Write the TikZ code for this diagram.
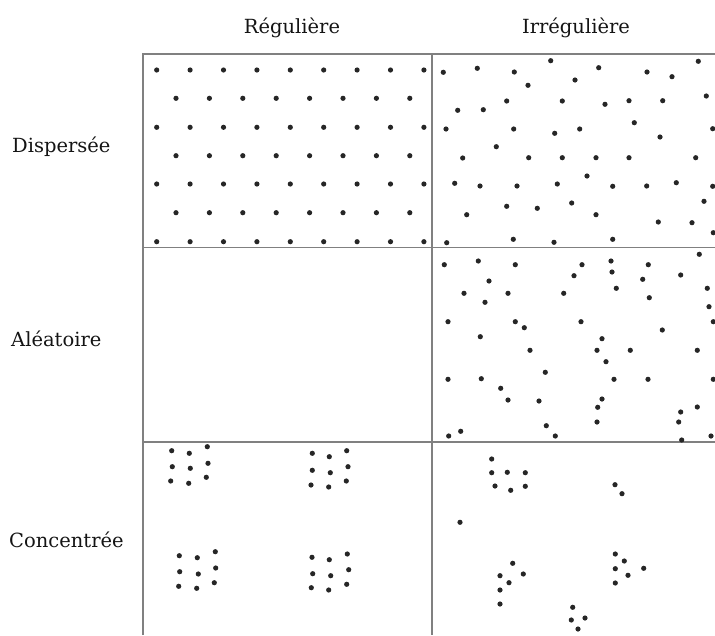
\documentclass[tikz,border=0pt]{standalone}
\usepackage{fontspec}
\setmainfont{DejaVu Serif}
\begin{document}
\begin{tikzpicture}[x=1pt,y=-1pt,
  gridline/.style={draw=black!50,line width=1.6pt},
  dot/.style={fill=black!85},
  lbl/.style={font=\fontsize{19.5}{21}\selectfont,text=black!92,inner sep=0pt}]
\useasboundingbox (0,0) rectangle (715,635);
% grid
\draw[gridline] (143,635) -- (143,54) -- (716,54);
\draw[gridline] (432,54) -- (432,635);
\draw[gridline] (143,247.5) -- (716,247.5);
\draw[gridline] (143,442) -- (716,442);
% labels
\node[lbl,anchor=base] (hreg) at (292,33) {Régulière};
\node[lbl,anchor=base] (hirr) at (576,33) {Irrégulière};
\node[lbl,anchor=base west] (rdis) at (12,152) {Dispersée};
\node[lbl,anchor=base west] (rale) at (11,346.5) {Aléatoire};
\node[lbl,anchor=base west] (rcon) at (9,547) {Concentrée};
% regular dispersed
\foreach \y in {70,127.3,184,241.7}{
  \foreach \i in {0,...,8}{\fill[dot] (156.7+33.4*\i,\y) circle (2.6);}}
\foreach \y in {98.3,155.7,212.7}{
  \foreach \i in {0,...,7}{\fill[dot] (176+33.4*\i,\y) circle (2.6);}}
% irregular dispersed
\foreach \p in {(443.3,72.3),(477.3,68.3),(514.3,72),(550.7,60.7),(598.7,67.7),(647,72),(672,76.7),(698.3,61.3),(528,85.3),(575,80),
(457.7,110.3),(483.3,109.7),(506.7,101),(562.3,101),(605,104.3),(629,100.7),(662.7,100.7),(706.3,96),
(446,129),(513.7,129),(554.7,133.3),(579.7,129),(634.3,122.7),(660,137),(712.7,128.7),(496.3,146.7),
(462.7,158),(528.7,157.7),(562.3,157.7),(596,157.7),(629,157.7),(695.7,157.7),(587,176),
(454.7,183.3),(480,186),(517,186),(557.3,184),(612.7,186.3),(646.7,186),(676.3,182.7),(712.7,186.3),
(506.7,206.3),(537.3,208.3),(571.7,203),(466.7,214.7),(596,214.7),(704,201.3),(658.3,222),(692,222.7),(713.3,232.7),
(446.7,242.7),(513.3,239.3),(554,242.3),(612.7,239.3)}
  {\fill[dot] \p circle (2.6);}
% irregular random
\foreach \p in {(444.3,264.7),(478.3,261),(515.3,264.7),(582,264.7),(611,261),(648.3,264.7),(699.3,254.3),
(574,275.7),(612,272),(642.7,279.3),(680.7,275),(489,281),(464,293.3),(508,293.3),(563.7,293.3),(616.3,288.3),
(649.3,297.7),(707.3,288.3),(485,302.3),(709,306.7),(448,321.7),(515.3,321.7),(524.3,327.7),(581,321.7),
(713.3,321.7),(662.3,330),(480.3,336.7),(602,338.7),(530,350.3),(597,350.3),(630.3,350.3),(697.3,350.3),
(606,361.7),(545.3,372.3),(448,379.3),(481.3,378.7),(614,379.3),(648,379.3),(713.3,379.3),(500.7,388.3),
(508,400),(539,401),(602,399),(597.7,407.3),(697.3,407),(680.7,412),(597,422),(678.7,422),(546.3,425.7),
(460.7,431.3),(448.7,436),(555.3,436),(711,436),(681.7,440)}
  {\fill[dot] \p circle (2.6);}
% regular concentrated
\foreach \p in {(171.7,450.7),(189.3,453.3),(207.3,446.7),(172.3,466.7),(190.3,468.3),(208,463.3),(170.7,481),(188.7,483.3),(206.3,477.3),
(312.3,453.3),(329.3,456.7),(346.7,450.7),(312.3,470.3),(330.3,472.7),(348,466.7),(311,485),(328.7,487),(346.3,481),
(179.3,555.7),(197.3,557.7),(215.3,551.7),(179.7,571.7),(198.3,574),(215.7,568),(178.7,586.3),(196.7,588.3),(214.3,582.7),
(312,557.3),(329.3,559.7),(347.3,554),(312.7,573.7),(330.7,575.7),(348.7,569.7),(311.3,587.7),(328.7,590),(346.7,584.3)}
  {\fill[dot] \p circle (2.6);}
% irregular concentrated
\foreach \p in {(491.7,459),(491.7,472.7),(507.3,472.3),(525.3,472.7),(495,486),(510.7,490.3),(525.3,486.3),
(615,484.7),(622,493.7),(460,522.3),
(512.7,563.3),(523.3,574),(500,575.7),(509,582.7),(500,590),(500,604),
(615.3,554),(624.3,561),(615.3,568.7),(643.7,568.3),(628,575.3),(615.3,583),
(572.7,607.3),(585,618),(571.3,620),(578,629)}
  {\fill[dot] \p circle (2.6);}
\end{tikzpicture}
\end{document}
